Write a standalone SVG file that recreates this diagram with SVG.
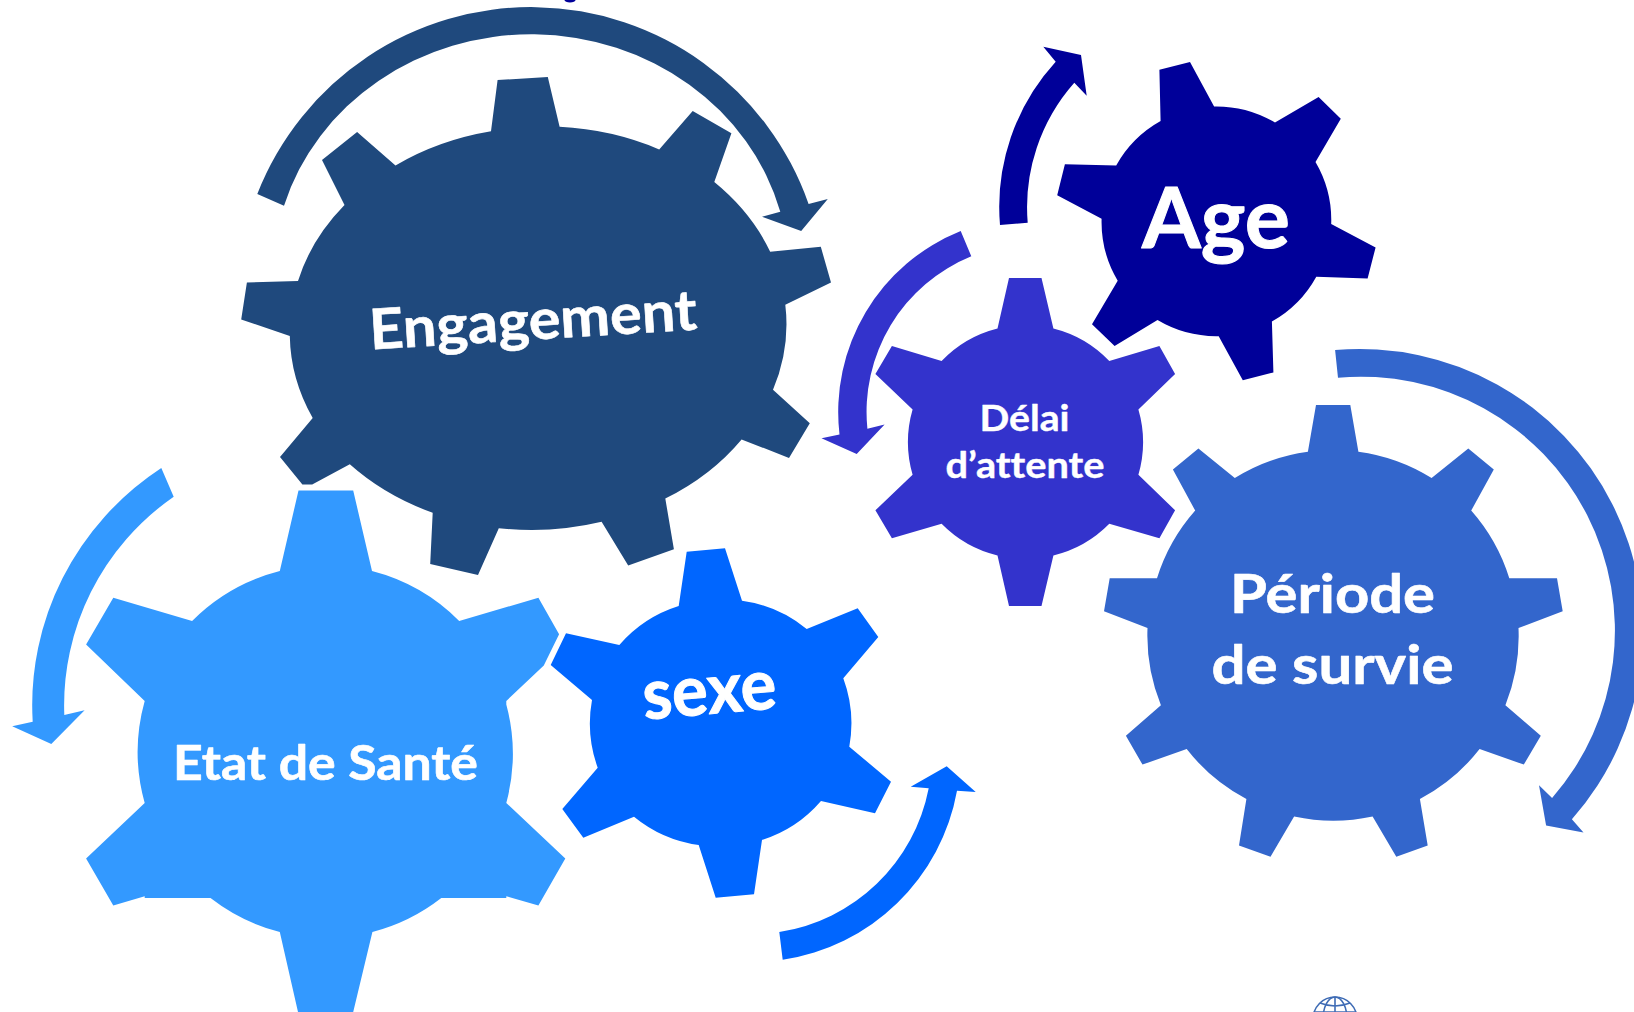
<svg xmlns="http://www.w3.org/2000/svg" width="1634" height="1012" viewBox="0 0 1634 1012">
<style>
.t{font-family:"Lato","Carlito","Liberation Sans",sans-serif;font-weight:700;fill:#fff;text-anchor:start;stroke:#fff;stroke-width:.6px;stroke-linejoin:round;font-variant-ligatures:none}
.big{stroke-width:1px}
.small{stroke-width:.4px}
</style>
<rect width="1634" height="1012" fill="#fff"/>
<g id="connectors">
<path id="arrow-engagement" fill="#1F497D" d="M257.3,194A294,294 0 0 1 808.6,204L827.8,199L801.2,231L762,216.7L780.3,211.7A258,240 0 0 0 284,205.7Z"/>
<path id="arrow-etat" fill="#3399FF" d="M161.3,468A290,285 0 0 0 32.7,721.7L12.2,726.3L51.3,743.9L84.6,710.2L64.3,715A258,255 0 0 1 173.7,496.7Z"/>
<path id="arrow-sexe" fill="#0066FF" d="M779.3,932A180,180 0 0 0 928.7,788.3L910.7,786.7L946.7,766.3L975.7,792L957,790.7A208,208 0 0 1 782.7,959.7Z"/>
<path id="arrow-delai" fill="#3333CC" d="M960.7,231A195,195 0 0 0 839.5,434.5L821.5,438.3L856.7,454L884.6,424.6L867.4,428.8A168,168 0 0 1 971.3,256.3Z"/>
<path id="arrow-age" fill="#000099" d="M1000,225A215,215 0 0 1 1055.7,61.7L1043.3,46.7L1081,55L1086.7,95.7L1074.3,82.7A188,188 0 0 0 1027.7,222.7Z"/>
<path id="arrow-periode" fill="#3366CC" d="M1335.1,350A283,283 0 0 1 1571.9,819.3L1583.5,832.6L1546.1,825.6L1539,785.3L1552.1,797.9A254,254 0 0 0 1338,377.7Z"/>
</g>
<g id="node-engagement">
<path fill="#1F497D" d="M491,131.3L497.6,80.1L547.8,77.1L559.6,126.8A248,202 0 0 1 659.2,149.4L692.7,111L731.4,133.2L714.3,182.1A248,202 0 0 1 770.2,251.7L820.8,246.8L831,282.5L785.3,304.7A248,202 0 0 1 773,389.8L809.8,423.3L789,457.9L741.6,439.4A248,202 0 0 1 665.3,498.5L673.9,549.3L628.2,565.5L601.6,521.8A248,202 0 0 1 498.8,528.2L478,574.9L430.2,564L432.7,512.8A248,202 0 0 1 349.8,464.3L312.2,484.6L302.4,484.6L280,457.1L312.7,418A248,202 0 0 1 289.8,336L241.2,319.4L246.9,282.5L298,281A248,202 0 0 1 344.5,205L322,159.9L357.1,132L395.5,165.5A248,202 0 0 1 491,131.3Z"/>
<text class="t" transform="translate(370.5,349.5) rotate(-3.5)" font-size="56" textLength="328" lengthAdjust="spacingAndGlyphs">Engagement</text>
</g>
<g id="node-etat">
<path fill="#3399FF" d="M279.8,571.1L298.5,490.5L353.2,490.5L372,571.1A190,190 0 0 1 459.2,621L538.4,597.7L559.1,634.2L543.8,665.4L506.3,700.9L506.3,704.5A190,190 0 0 1 506.3,803L565.3,858.6L538.4,905.6L506.3,896.2L506.3,898L441.3,898A190,190 0 0 1 372.4,932L353.2,1012L298,1012L279.8,932A190,190 0 0 1 210.5,898L144.7,898L144.7,896.2L113.3,905.6L86.1,858.6L144.7,803A190,190 0 0 1 144.7,700.9L86.1,644.6L113.3,597.7L192.1,621A190,190 0 0 1 279.8,571.1Z"/>
<text class="t" x="173" y="779.7" font-size="48" textLength="305" lengthAdjust="spacingAndGlyphs">Etat de Santé</text>
</g>
<g id="node-sexe">
<path fill="#0066FF" d="M678.7,606L686.7,551.7L725,548.3L742,600.7A130,130 0 0 1 806.7,629L857.7,608.3L878.3,637L843.3,678.3A130,130 0 0 1 849.3,746.7L891,781.7L875,813.3L821,801A130,130 0 0 1 762,840L754,894.3L715.7,897.7L698.7,845A130,130 0 0 1 634,816.7L583.3,837.7L562.3,809L597.7,767.7A130,130 0 0 1 592,700L550.7,665L566,633.3L619.3,645A130,130 0 0 1 678.7,606Z"/>
<text class="t big" transform="translate(644.5,719.5) rotate(-4.9)" font-size="70" textLength="134" lengthAdjust="spacingAndGlyphs">sexe</text>
</g>
<g id="node-delai">
<path fill="#3333CC" d="M997.5,328.5L1009,278L1041.5,278L1053.4,328.5A117,117 0 0 1 1109.3,361L1159.4,346.1L1175.1,374L1138.4,409.6A117,117 0 0 1 1138.4,474.7L1175.1,510.3L1159.4,538.2L1109.3,523.7A117,117 0 0 1 1053.4,555.4L1041.5,606L1009,606L997.5,555.4A117,117 0 0 1 941.6,523.7L891.9,538.2L875.4,510.3L912.6,474.7A117,117 0 0 1 912.6,409.6L875.4,374L891.9,346.1L941.6,361A117,117 0 0 1 997.5,328.5Z"/>
<text class="t small" x="979.5" y="430.7" font-size="37" textLength="90" lengthAdjust="spacingAndGlyphs">Délai</text>
<text class="t small" x="945.5" y="477.8" font-size="37" textLength="159" lengthAdjust="spacingAndGlyphs">d’attente</text>
</g>
<g id="node-age">
<path fill="#000099" d="M1160.6,121.1L1159.4,69.8L1190,62.1L1214.1,106.5A115,115 0 0 1 1275,122.6L1318.6,97L1340.8,118.8L1315.5,162A115,115 0 0 1 1331.2,224L1375.6,247.4L1367.6,278.4L1316.3,276.8A115,115 0 0 1 1271.9,321.6L1273.4,372.5L1242.8,380.2L1218.7,336.2A115,115 0 0 1 1157.5,320.1L1114.6,346.1L1092,324.3L1117.7,280.7A115,115 0 0 1 1101.6,218.7L1057.2,195.3L1064.9,164.3L1116.2,165.5A115,115 0 0 1 1160.6,121.1Z"/>
<text class="t big" x="1142" y="248" font-size="84" textLength="148" lengthAdjust="spacingAndGlyphs">Age</text>
</g>
<g id="node-periode">
<path fill="#3366CC" d="M1307.9,451.7L1316,405.1L1350.3,405.1L1358.4,451.7A186,186 0 0 1 1431.6,478L1468.3,448.6L1493.8,469.6L1471.2,510.6A186,186 0 0 1 1509.3,578.3L1557,578.3L1562.7,611.3L1518.5,628.1A186,186 0 0 1 1505.4,705.3L1540.8,735.8L1523.8,764.6L1479.6,749.1A186,186 0 0 1 1419.9,799L1427.7,845.6L1396.3,856.8L1372.6,816.5A186,186 0 0 1 1294.1,816.5L1270.5,856.8L1239,845.6L1246.4,799A186,186 0 0 1 1186.7,749.1L1142.5,764.6L1125.9,735.8L1160.9,705.3A186,186 0 0 1 1147.5,628.1L1104,611.3L1109.7,578.3L1157,578.3A186,186 0 0 1 1195.2,510.6L1172.9,469.6L1198.4,448.6L1234.8,478A186,186 0 0 1 1307.9,451.7Z"/>
<text class="t" x="1230" y="613.4" font-size="54" textLength="205" lengthAdjust="spacingAndGlyphs">Période</text>
<text class="t" x="1211.5" y="683.6" font-size="54" textLength="242" lengthAdjust="spacingAndGlyphs">de survie</text>
</g>
<ellipse cx="570" cy="0" rx="5.5" ry="2.5" fill="#000099"/>
<g id="globe" fill="none" stroke="#3F6CB5" stroke-width="1.6">
<circle cx="1335" cy="1019" r="22"/>
<ellipse cx="1335" cy="1019" rx="12" ry="22"/>
<path d="M1335,997V1012M1320,1003Q1335,1009 1350,1003M1314,1012H1356"/>
</g>
</svg>
